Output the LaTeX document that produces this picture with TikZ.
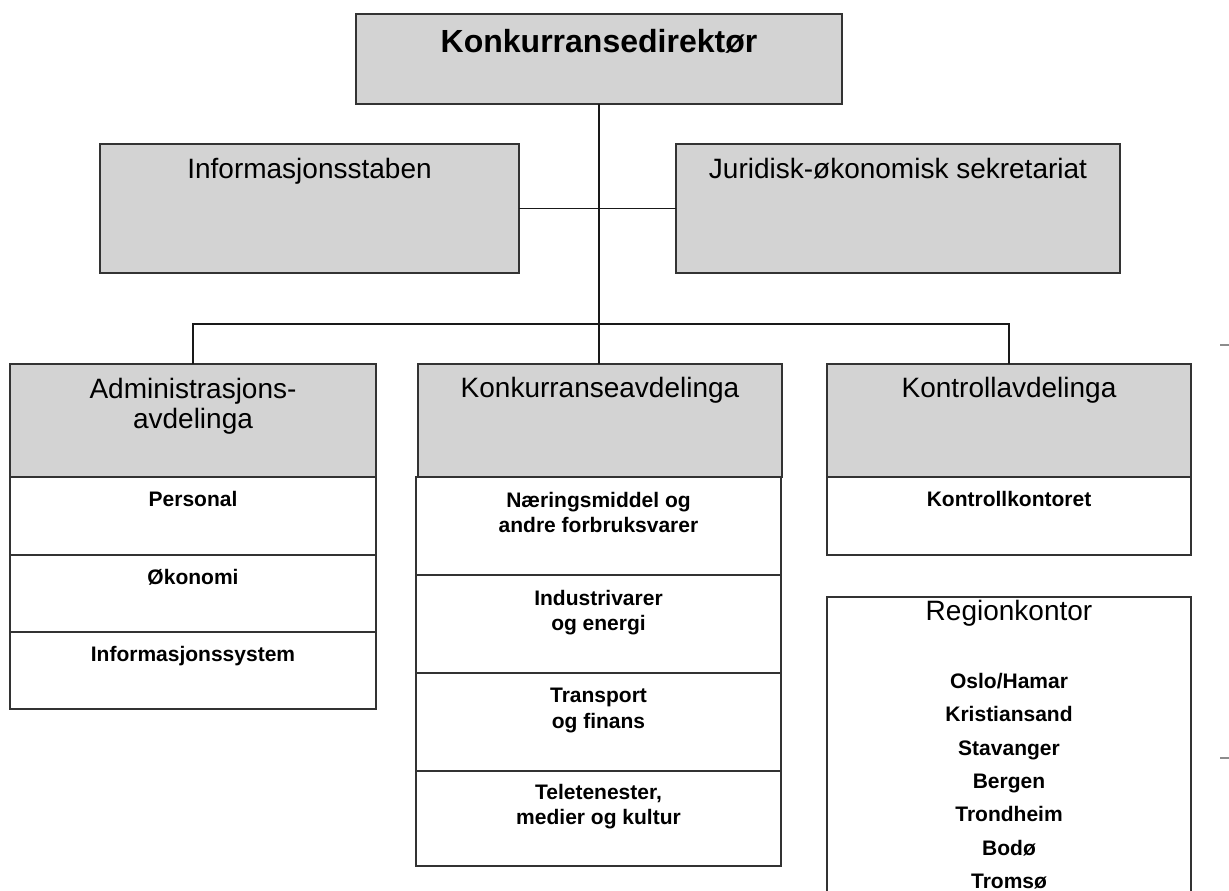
\documentclass[tikz,border=0pt]{standalone}
\usepackage{fontspec}
\setmainfont{Liberation Sans}
\begin{document}
\begin{tikzpicture}[x=1pt,y=-1pt,
  box/.style={draw=black!80, line width=1.4pt, inner sep=0pt, outer sep=0pt},
  graybox/.style={box, fill={rgb,255:red,211;green,211;blue,211}},
  wbox/.style={box, fill=white},
  conn/.style={draw=black!90, line width=1.2pt},
  ttl/.style={anchor=base, inner sep=0pt, font=\fontsize{32}{38}\selectfont\bfseries},
  hdr/.style={anchor=base, inner sep=0pt, font=\fontsize{28}{33}\selectfont},
  row/.style={anchor=base, inner sep=0pt, font=\fontsize{21}{25}\selectfont\bfseries},
  tick/.style={draw=black!45, line width=1.2pt}
]
\useasboundingbox (0,0) rectangle (1229,891);
\fill[white] (0,0) rectangle (1229,891);

% boxes (center, width, height)
\node[graybox, minimum width=486pt, minimum height=90pt] (dir) at (599,59) {};
\node[graybox, minimum width=419pt, minimum height=129pt] (info) at (309.5,208.5) {};
\node[graybox, minimum width=444pt, minimum height=129pt] (jur) at (898,208.5) {};

% Administrasjonsavdelinga
\node[graybox, minimum width=366pt, minimum height=113pt] (adm) at (193,420.5) {};
\node[wbox, minimum width=366pt, minimum height=78pt] (adm1) at (193,516) {};
\node[wbox, minimum width=366pt, minimum height=77pt] (adm2) at (193,593.5) {};
\node[wbox, minimum width=366pt, minimum height=77pt] (adm3) at (193,670.5) {};

% Konkurranseavdelinga
\node[graybox, minimum width=364pt, minimum height=113pt] (kon) at (600,420.5) {};
\node[wbox, minimum width=365pt, minimum height=98pt] (kon1) at (598.5,526) {};
\node[wbox, minimum width=365pt, minimum height=98pt] (kon2) at (598.5,624) {};
\node[wbox, minimum width=365pt, minimum height=98pt] (kon3) at (598.5,722) {};
\node[wbox, minimum width=365pt, minimum height=95pt] (kon4) at (598.5,818.5) {};

% Kontrollavdelinga
\node[graybox, minimum width=364pt, minimum height=113pt] (kth) at (1009,420.5) {};
\node[wbox, minimum width=364pt, minimum height=78pt] (kt1) at (1009,516) {};

% Regionkontor (runs off the bottom edge)
\begin{scope}
\clip (0,0) rectangle (1229,891);
\node[wbox, minimum width=364pt, minimum height=320pt] (reg) at (1009,757) {};
\end{scope}

% connectors
\coordinate (hl) at (adm.north |- 0,324);
\coordinate (hr) at (kth.north |- 0,324);
\draw[conn] (dir.south) -- (dir.south |- kon.north);
\draw[conn] (info.east) -- (jur.west);
\draw[conn] (adm.north) -- (hl) -- (hr) -- (kth.north);

% stray tick marks at the right edge
\coordinate (ta) at (1220,345); \coordinate (tb) at (1229,345);
\coordinate (tc) at (1220,758); \coordinate (td) at (1229,758);
\draw[tick] (ta) -- (tb);
\draw[tick] (tc) -- (td);

% texts
\node[ttl] (tdir) at (599,53) {Konkurransedirektør};
\node[hdr] (tinfo) at (309.5,178) {Informasjonsstaben};
\node[hdr] (tjur) at (898,178) {Juridisk-økonomisk sekretariat};

\node[hdr] (tadma) at (193,398) {Administrasjons-};
\node[hdr] (tadmb) at (193,428) {avdelinga};
\node[row] (tadm1) at (193,506) {Personal};
\node[row] (tadm2) at (193,584) {Økonomi};
\node[row] (tadm3) at (193,661) {Informasjonssystem};

\node[hdr] (tkon) at (600,397) {Konkurranseavdelinga};
\node[row] (tk1a) at (598.5,507) {Næringsmiddel og};
\node[row] (tk1b) at (598.5,532) {andre forbruksvarer};
\node[row] (tk2a) at (598.5,605) {Industrivarer};
\node[row] (tk2b) at (598.5,630) {og energi};
\node[row] (tk3a) at (598.5,702) {Transport};
\node[row] (tk3b) at (598.5,728) {og finans};
\node[row] (tk4a) at (598.5,799) {Teletenester,};
\node[row] (tk4b) at (598.5,824) {medier og kultur};

\node[hdr] (tkth) at (1009,397) {Kontrollavdelinga};
\node[row] (tkt1) at (1009,506) {Kontrollkontoret};

\node[hdr] (treg) at (1009,620) {Regionkontor};
\node[row] (r1) at (1009,688) {Oslo/Hamar};
\node[row] (r2) at (1009,721) {Kristiansand};
\node[row] (r3) at (1009,755) {Stavanger};
\node[row] (r4) at (1009,788) {Bergen};
\node[row] (r5) at (1009,821) {Trondheim};
\node[row] (r6) at (1009,855) {Bodø};
\node[row] (r7) at (1009,888) {Tromsø};
\end{tikzpicture}
\end{document}
